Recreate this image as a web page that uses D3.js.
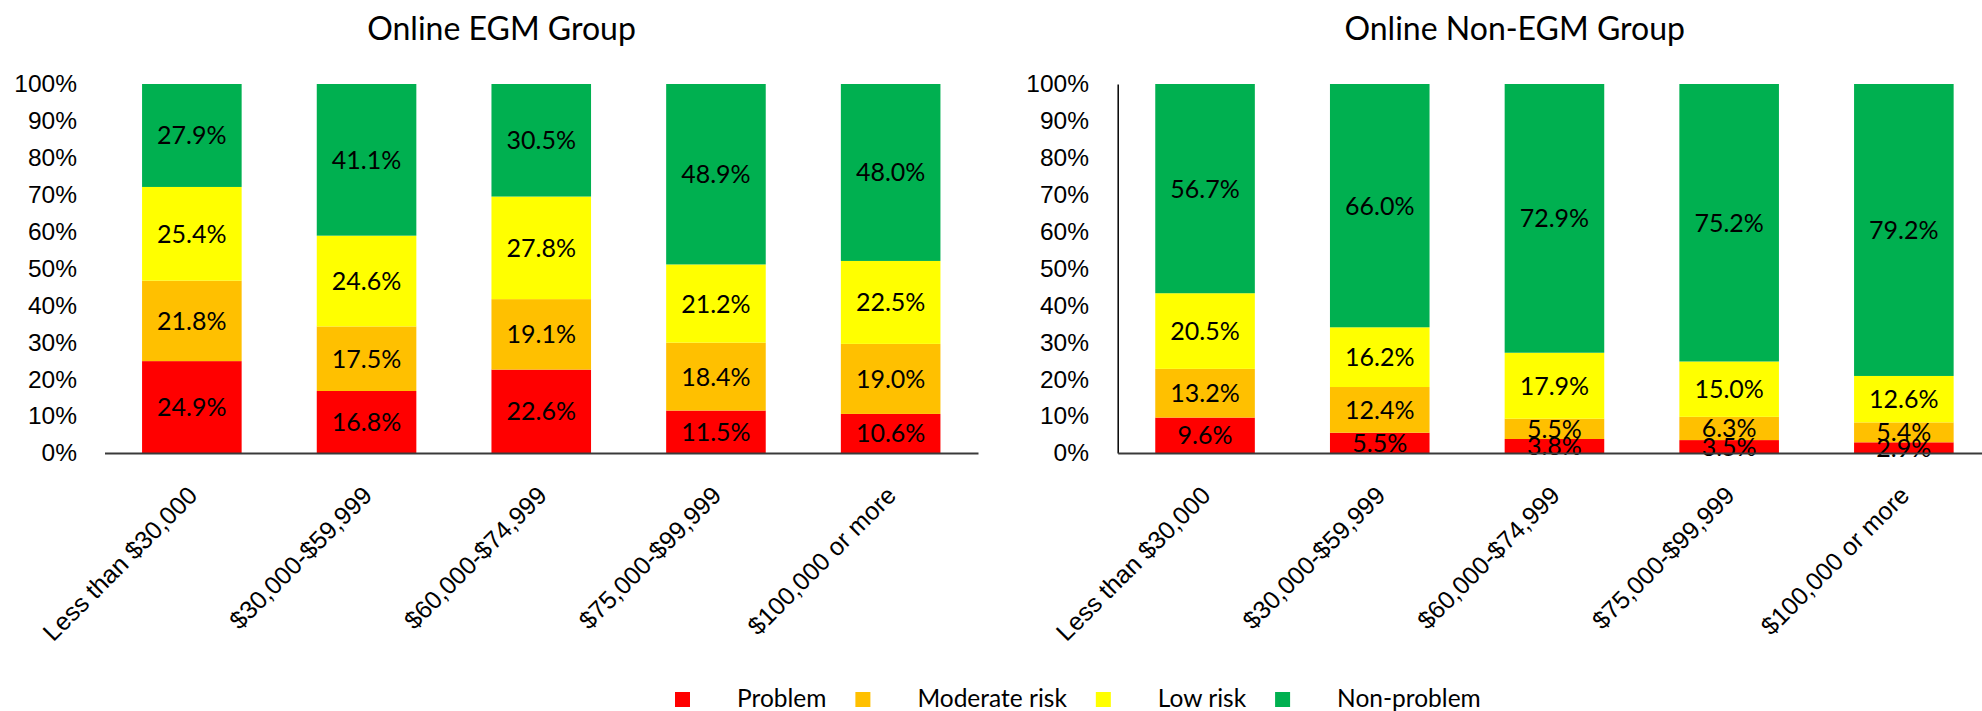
<!DOCTYPE html>
<html>
<head>
<meta charset="utf-8">
<script src="https://cdn.jsdelivr.net/npm/d3@7"></script>
<style>
    body { margin: 0; background: #fff; }
    svg { display: block; font-family: Lato, 'Open Sans', sans-serif; }
</style>
</head>
<body>
<svg id="chart"></svg>
<script>
// income brackets, shared by both panels
const categories = ['Less than $30,000', '$30,000-$59,999', '$60,000-$74,999', '$75,000-$99,999', '$100,000 or more'];
const seriesKeys = ['Problem', 'Moderate risk', 'Low risk', 'Non-problem'];
const seriesColors = ['#FF0000', '#FFC000', '#FFFF00', '#00B050'];
const yTicks = [0, 10, 20, 30, 40, 50, 60, 70, 80, 90, 100];

// Online EGM group (%)
const egmProblem = [24.9, 16.8, 22.6, 11.5, 10.6];
const egmModerate = [21.8, 17.5, 19.1, 18.4, 19.0];
const egmLow = [25.4, 24.6, 27.8, 21.2, 22.5];
const egmNonProblem = [27.9, 41.1, 30.5, 48.9, 48.0];

// Online non-EGM group (%)
const nonEgmProblem = [9.6, 5.5, 3.8, 3.5, 2.9];
const nonEgmModerate = [13.2, 12.4, 5.5, 6.3, 5.4];
const nonEgmLow = [20.5, 16.2, 17.9, 15.0, 12.6];
const nonEgmNonProblem = [56.7, 66.0, 72.9, 75.2, 79.2];

function buildRows(cols) {
    return categories.map((c, i) => {
        const row = { cat: c };
        seriesKeys.forEach((k, j) => row[k] = cols[j][i]);
        return row;
    });
}

class StackedPanel {
    constructor(config, data) {
        this.config = config;
        this.data = data;
        this.init();
    }

    init() {
        let self = this;
        const c = self.config;

        self.g = d3.select(c.parent).append('g');

        self.xscale = d3.scaleBand()
            .domain(categories)
            .range([c.left, c.left + c.plotWidth])
            .paddingInner(0.43)
            .paddingOuter(0.215);

        self.yscale = d3.scaleLinear()
            .domain([0, 1])
            .range([c.bottom, c.top]);

        self.render();
    }

    render() {
        let self = this;
        const c = self.config;

        const stacked = d3.stack()
            .keys(seriesKeys)
            .offset(d3.stackOffsetExpand)(self.data);

        const series = self.g.selectAll('g.series')
            .data(stacked)
            .join('g')
            .attr('class', 'series')
            .style('fill', (d, i) => seriesColors[i]);

        series.selectAll('rect')
            .data(d => d)
            .join('rect')
            .attr('x', d => self.xscale(d.data.cat))
            .attr('width', self.xscale.bandwidth())
            .attr('y', d => self.yscale(d[1]))
            .attr('height', d => self.yscale(d[0]) - self.yscale(d[1]));

        // value labels in the middle of each segment
        const labels = self.g.append('g');
        stacked.forEach(s => {
            labels.selectAll(null)
                .data(s)
                .join('text')
                .attr('x', d => self.xscale(d.data.cat) + self.xscale.bandwidth() / 2)
                .attr('y', d => self.yscale((d[0] + d[1]) / 2))
                .attr('dy', '0.36em')
                .attr('text-anchor', 'middle')
                .style('font-size', '25px')
                .style('fill', '#000')
                .text(d => d.data[s.key].toFixed(1) + '%');
        });

        // y axis
        const yaxis = d3.axisLeft(self.yscale.copy().domain([0, 100]))
            .tickValues(yTicks)
            .tickSize(0)
            .tickPadding(c.left - c.labelRight)
            .tickFormat(d => d + '%');

        const yg = self.g.append('g')
            .attr('transform', `translate(${c.left}, 0)`)
            .call(yaxis);
        yg.selectAll('text').style('font-size', '24.5px').style('fill', '#000');
        if (c.showYLine) {
            yg.select('.domain').attr('stroke', '#000').attr('stroke-width', 1.5);
        } else {
            yg.select('.domain').remove();
        }

        // x axis with slanted labels
        const xaxis = d3.axisBottom(self.xscale)
            .tickSize(0)
            .tickSizeOuter(0);

        const xg = self.g.append('g')
            .attr('transform', `translate(0, ${c.bottom})`)
            .call(xaxis);
        xg.select('.domain').attr('stroke', '#3a3a3a').attr('stroke-width', 2);
        xg.selectAll('text')
            .attr('y', 0)
            .attr('dy', 0)
            .attr('text-anchor', 'end')
            .attr('transform', 'translate(7, 44) rotate(-45)')
            .style('font-size', '25px')
            .style('fill', '#000');

        self.g.append('text')
            .attr('x', c.left + c.titleOffset)
            .attr('y', 40)
            .attr('text-anchor', 'middle')
            .style('font-size', '32px')
            .style('fill', '#000')
            .text(c.title);
    }
}

const svg = d3.select('#chart')
    .attr('width', 1982)
    .attr('height', 711);

svg.append('rect').attr('width', 1982).attr('height', 711).attr('fill', '#fff');

new StackedPanel({
    parent: '#chart',
    title: 'Online EGM Group',
    left: 104.5,
    plotWidth: 873.5,
    top: 84,
    bottom: 453,
    labelRight: 77,
    titleOffset: 397,
    showYLine: false
}, buildRows([egmProblem, egmModerate, egmLow, egmNonProblem]));

new StackedPanel({
    parent: '#chart',
    title: 'Online Non-EGM Group',
    left: 1117.7,
    plotWidth: 873.5,
    top: 84,
    bottom: 453,
    labelRight: 1089,
    titleOffset: 397,
    showYLine: true
}, buildRows([nonEgmProblem, nonEgmModerate, nonEgmLow, nonEgmNonProblem]));

// legend, laid out left to right
const legend = svg.append('g').attr('class', 'legend');
let lx = 675;
seriesKeys.forEach((k, i) => {
    legend.append('rect')
        .attr('x', lx)
        .attr('y', 692)
        .attr('width', 15)
        .attr('height', 15)
        .style('fill', seriesColors[i]);
    const t = legend.append('text')
        .attr('x', lx + 62)
        .attr('y', 707)
        .style('font-size', '24.5px')
        .style('fill', '#000')
        .text(k);
    lx += 62 + t.node().getComputedTextLength() + 29;
});
</script>
</body>
</html>
